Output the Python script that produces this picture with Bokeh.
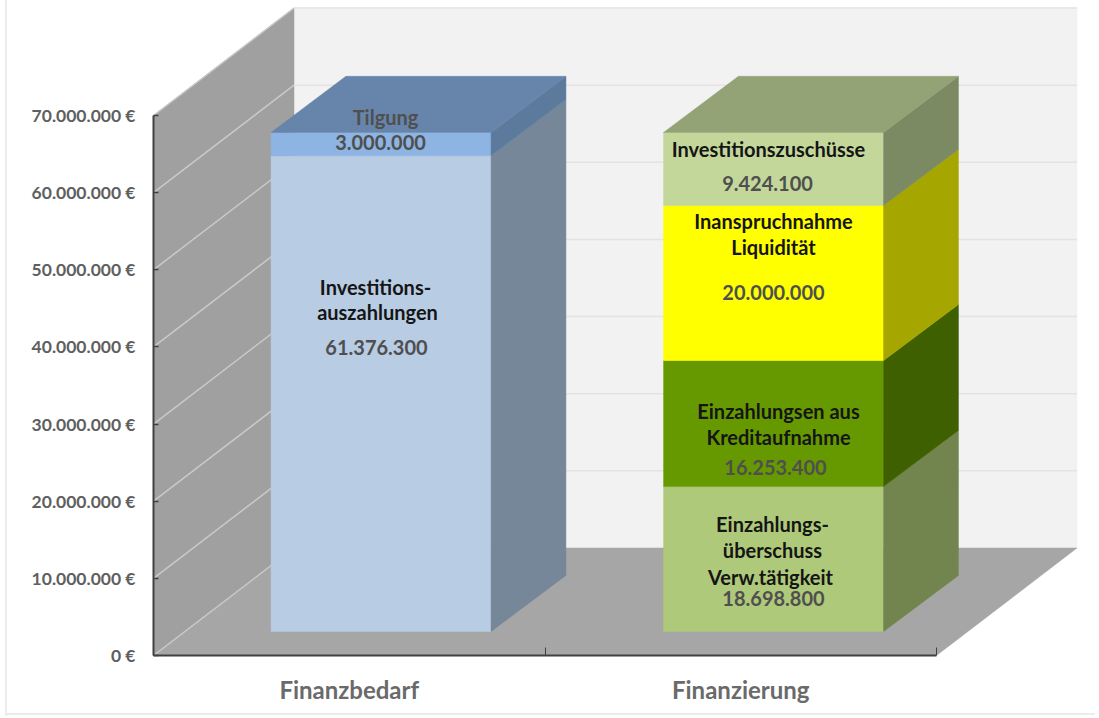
from bokeh.plotting import figure
from bokeh.models import Range1d, FixedTicker
from bokeh.core.properties import value
from bokeh.embed import file_html
from bokeh.resources import INLINE

# ---------- data ----------
categories = ["Finanzbedarf", "Finanzierung"]
y_ticks = [0, 10_000_000, 20_000_000, 30_000_000, 40_000_000, 50_000_000, 60_000_000, 70_000_000]
y_tick_labels = ["0 €", "10.000.000 €", "20.000.000 €", "30.000.000 €", "40.000.000 €",
                 "50.000.000 €", "60.000.000 €", "70.000.000 €"]
finanzbedarf_values = [61_376_300, 3_000_000]
finanzierung_values = [18_698_800, 16_253_400, 20_000_000, 9_424_100]

# ---------- layout / projection ----------
FONT = value("Lato")
PX_PER_CAT = 391.5            # page pixels per category
PX_PER_EUR = 540 / 70_000_000 # page pixels per euro on the axis plane
WIDTH, HEIGHT = 1095, 716
FRAME_LEFT, FRAME_RIGHT, FRAME_TOP, FRAME_BOTTOM = 153, 1095, 0, 655
DEPTH_DX = 140.5 / PX_PER_CAT # category units for the full depth
DEPTH_DY = 107.5 / PX_PER_EUR # euros for the full depth
BAR_D0, BAR_D1 = 0.223, 0.745
BAR_W = 220 / PX_PER_CAT
BAR_K = 1.005                 # slight enlargement of the bar plane
BAR_CENTERS = [0.5 + 0.5 / PX_PER_CAT, 1.5 + 1.5 / PX_PER_CAT]
BAR_SIDE_STRETCH = 1.5 / PX_PER_CAT


def proj(x, v, d):
    return x + d * DEPTH_DX, v + d * DEPTH_DY


def page(px, py):
    """Text anchors are given in page pixels."""
    return (px - FRAME_LEFT) / PX_PER_CAT, (FRAME_BOTTOM - py) / PX_PER_EUR


p = figure(width=WIDTH, height=HEIGHT, output_backend="svg", toolbar_location=None,
           x_range=Range1d(0, (FRAME_RIGHT - FRAME_LEFT) / PX_PER_CAT),
           y_range=Range1d(0, (FRAME_BOTTOM - FRAME_TOP) / PX_PER_EUR),
           min_border_left=FRAME_LEFT, min_border_right=0, min_border_top=0,
           min_border_bottom=HEIGHT - FRAME_BOTTOM,
           background_fill_color="white", border_fill_color=None, outline_line_color=None)
p.grid.visible = False
# faint picture frame behind the transparent canvas border
p.styles = {"background": "linear-gradient(#ececec,#ececec) left 5px top 0 / 2px 100% no-repeat, "
                          "linear-gradient(#ececec,#ececec) left 5px bottom 1px / 100% 2px no-repeat, "
                          "white"}

VMAX = y_ticks[-1]
NCAT = len(categories)


def quad(pts, color):
    xs, ys = zip(*pts)
    p.patch(list(xs), list(ys), fill_color=color, line_color=color, line_width=0.5)


# walls and floor
quad([proj(0, 0, 1), proj(NCAT, 0, 1), proj(NCAT, VMAX, 1), proj(0, VMAX, 1)], "#f2f2f2")
quad([proj(0, 0, 0), proj(0, 0, 1), proj(0, VMAX, 1), proj(0, VMAX, 0)], "#a0a0a0")
quad([proj(0, 0, 0), proj(NCAT, 0, 0), proj(NCAT, 0, 1), proj(0, 0, 1)], "#a6a6a6")

# grid lines on the walls
for t in y_ticks:
    a, b, c = proj(0, t, 0), proj(0, t, 1), proj(NCAT, t, 1)
    p.line([a[0], b[0]], [a[1], b[1]], line_color="#c9c9c9", line_width=1.5)
    if t:
        p.line([b[0], c[0]], [b[1], c[1]], line_color="#e3e3e3", line_width=1.5)


def stack(center, vals, fronts, sides, top):
    left, right = center - BAR_W / 2, center + BAR_W / 2
    back = right + BAR_SIDE_STRETCH
    bleft = left + BAR_SIDE_STRETCH
    base = 0
    for v, f, s in zip(vals, fronts, sides):
        lo, hi = base * BAR_K, (base + v) * BAR_K
        quad([proj(left, lo, BAR_D0), proj(right, lo, BAR_D0),
              proj(right, hi, BAR_D0), proj(left, hi, BAR_D0)], f)
        quad([proj(right, lo, BAR_D0), proj(back, lo, BAR_D1),
              proj(back, hi, BAR_D1), proj(right, hi, BAR_D0)], s)
        base += v
    h = base * BAR_K
    quad([proj(left, h, BAR_D0), proj(right, h, BAR_D0),
          proj(back, h, BAR_D1), proj(bleft, h, BAR_D1)], top)


stack(BAR_CENTERS[0], finanzbedarf_values, ["#b8cce4", "#8db4e2"], ["#76879a", "#5b7a9c"], "#6785ab")
stack(BAR_CENTERS[1], finanzierung_values,
      ["#afc97a", "#669900", "#ffff00", "#c4d79b"],
      ["#72854f", "#3f6000", "#a6a600", "#7b8a62"], "#94a376")


def fmt(v):
    return f"{v:,}".replace(",", ".")


DARK, GREY = "#151515", "#4f4f4f"
labels = [
    ("Tilgung", 385, 116, GREY),
    (fmt(finanzbedarf_values[1]), 380, 142, GREY),
    ("Investitions-", 375, 286, DARK),
    ("auszahlungen", 377, 311, DARK),
    (fmt(finanzbedarf_values[0]), 376, 347, GREY),
    ("Investitionszuschüsse", 768, 148, DARK),
    (fmt(finanzierung_values[3]), 767, 183, GREY),
    ("Inanspruchnahme", 773, 220, DARK),
    ("Liquidität", 773, 246, DARK),
    (fmt(finanzierung_values[2]), 773, 292, GREY),
    ("Einzahlungsen aus", 778, 410, DARK),
    ("Kreditaufnahme", 778, 436, DARK),
    (fmt(finanzierung_values[1]), 775, 467, GREY),
    ("Einzahlungs-", 772, 523, DARK),
    ("überschuss", 772, 549, DARK),
    ("Verw.tätigkeit", 770, 576, DARK),
    (fmt(finanzierung_values[0]), 773, 598, GREY),
]
for txt, px, py, col in labels:
    x, y = page(px, py)
    p.text([x], [y], text=[txt], text_font=FONT, text_font_style="bold",
           text_font_size="20px" if col == GREY else "20px",
           text_align="center", text_baseline="middle", text_color=col)

# axes
ax = p.yaxis[0]
ax.ticker = FixedTicker(ticks=y_ticks)
ax.major_label_overrides = dict(zip(y_ticks, y_tick_labels))
ax.bounds = (0, VMAX)
ax.major_tick_in, ax.major_tick_out = 5, 0
ax.minor_tick_line_color = None
ax.axis_line_color = ax.major_tick_line_color = "#404040"
ax.axis_line_width = 2
ax.major_tick_line_width = 1.5
ax.major_label_standoff = 18
ax.major_label_text_font = "Lato"
ax.major_label_text_font_style = "bold"
ax.major_label_text_font_size = "17.5px"
ax.major_label_text_color = "#5f5f5f"

bx = p.xaxis[0]
centers = [i + 0.5 for i in range(NCAT)]
bx.ticker = FixedTicker(ticks=centers, minor_ticks=list(range(NCAT + 1)))
bx.major_label_overrides = dict(zip(centers, categories))
bx.bounds = (0, NCAT)
bx.major_tick_line_color = None
bx.minor_tick_in, bx.minor_tick_out = 8, 0
bx.minor_tick_line_color = "#404040"
bx.axis_line_color = "#404040"
bx.axis_line_width = 2
bx.major_label_standoff = 13
bx.major_label_text_font = "Lato"
bx.major_label_text_font_style = "bold"
bx.major_label_text_font_size = "24px"
bx.major_label_text_color = "#6a6a6a"

open("out.html", "w").write(file_html(p, INLINE))
